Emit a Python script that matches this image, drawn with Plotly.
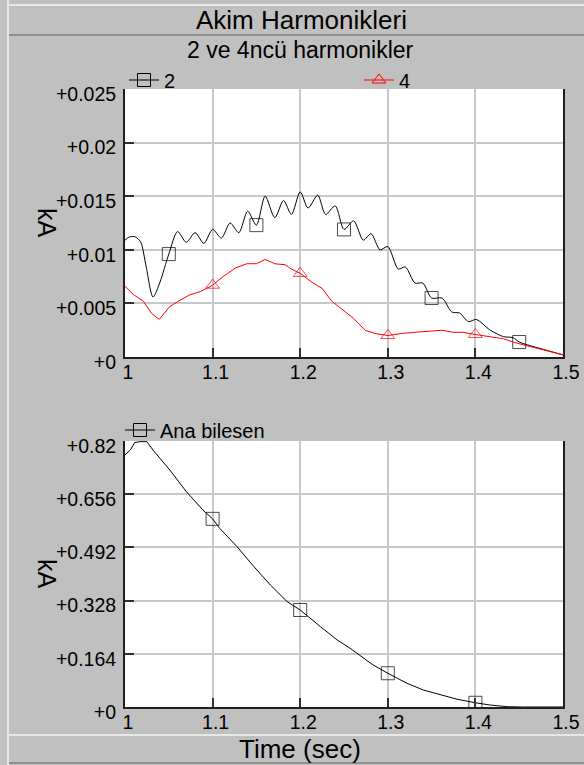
import plotly.graph_objects as go

# ---------------- data ----------------
t_h2 = [1.000, 1.005, 1.012, 1.018, 1.024, 1.032, 1.040, 1.050, 1.060, 1.070,
        1.080, 1.090, 1.100, 1.110, 1.120, 1.130, 1.140, 1.150, 1.160, 1.171,
        1.181, 1.190, 1.200, 1.209, 1.220, 1.229, 1.240, 1.250, 1.261, 1.272,
        1.281, 1.291, 1.300, 1.312, 1.320, 1.331, 1.340, 1.350, 1.362, 1.373,
        1.382, 1.392, 1.401, 1.417, 1.432, 1.443, 1.450, 1.478, 1.500]
h2 = [0.0109, 0.0112, 0.0112, 0.0107, 0.0085, 0.0056, 0.0070, 0.0096, 0.0117, 0.0107,
      0.0116, 0.0106, 0.0119, 0.0111, 0.0125, 0.0116, 0.0136, 0.0123, 0.0150, 0.0130,
      0.0146, 0.0133, 0.0154, 0.0139, 0.0151, 0.0133, 0.0141, 0.0119, 0.0127, 0.0109,
      0.0115, 0.0100, 0.0103, 0.0082, 0.0084, 0.0069, 0.0069, 0.0055, 0.0055, 0.0042,
      0.0041, 0.0033, 0.0035, 0.0025, 0.0019, 0.0018, 0.0014, 0.0007, 0.0002]
h2_marker_t = [1.05, 1.15, 1.25, 1.35, 1.45]

t_h4 = [1.000, 1.010, 1.021, 1.030, 1.039, 1.051, 1.063, 1.074, 1.086, 1.100,
        1.112, 1.126, 1.139, 1.150, 1.160, 1.171, 1.183, 1.190, 1.200, 1.213,
        1.225, 1.236, 1.247, 1.261, 1.274, 1.285, 1.300, 1.316, 1.331, 1.344,
        1.362, 1.375, 1.386, 1.400, 1.417, 1.432, 1.447, 1.470, 1.500]
h4 = [0.0066, 0.0058, 0.0052, 0.0041, 0.0035, 0.0047, 0.0053, 0.0058, 0.0061, 0.0067,
      0.0075, 0.0083, 0.0087, 0.0087, 0.0091, 0.0087, 0.0086, 0.0082, 0.0078, 0.0070,
      0.0064, 0.0052, 0.0045, 0.0036, 0.0025, 0.0022, 0.0020, 0.0022, 0.0023, 0.0024,
      0.0025, 0.0023, 0.0023, 0.0021, 0.0019, 0.0017, 0.0013, 0.0008, 0.0002]
h4_marker_t = [1.1, 1.2, 1.3, 1.4]

t_fund = [1.000, 1.006, 1.011, 1.017, 1.025, 1.032, 1.051, 1.070, 1.089, 1.100,
          1.108, 1.128, 1.147, 1.166, 1.185, 1.200, 1.223, 1.242, 1.257, 1.265,
          1.283, 1.300, 1.322, 1.341, 1.360, 1.379, 1.400, 1.417, 1.436, 1.455, 1.500]
fund = [0.777, 0.792, 0.815, 0.818, 0.818, 0.792, 0.731, 0.664, 0.607, 0.580,
        0.551, 0.494, 0.433, 0.376, 0.325, 0.299, 0.248, 0.207, 0.181, 0.166,
        0.130, 0.104, 0.073, 0.052, 0.037, 0.024, 0.013, 0.006, 0.001, 0.000, 0.000]
fund_marker_t = [1.1, 1.2, 1.3, 1.4]

x_ticks = [1.0, 1.1, 1.2, 1.3, 1.4, 1.5]
x_ticktext = ["1", "1.1", "1.2", "1.3", "1.4", "1.5"]
top_yticks = [0, 0.005, 0.01, 0.015, 0.02, 0.025]
top_yticktext = ["+0", "+0.005", "+0.01", "+0.015", "+0.02", "+0.025"]
bot_yticks = [0, 0.164, 0.328, 0.492, 0.656, 0.82]
bot_yticktext = ["+0", "+0.164", "+0.328", "+0.492", "+0.656", "+0.82"]

title_text = "Akim Harmonikleri"
subtitle_text = "2 ve 4ncü harmonikler"
y_title = "kA"
x_title = "Time (sec)"

# ---------------- layout helpers ----------------
W, H = 584, 765
def px(x):
    return x / W
def py(y):
    return 1 - y / H

def sizes(ts, marks, s):
    return [s if any(abs(t - m) < 1e-9 for m in marks) else 0 for t in ts]

FONT = "Liberation Sans, Arial, sans-serif"

fig = go.Figure()

def add_series(tx, ty, name, color, symbol, msize, marks, xa, ya, leg, spline=False):
    line = dict(color=color, width=1)
    if spline:
        line.update(shape="spline", smoothing=0.8)
    fig.add_trace(go.Scatter(
        x=tx, y=ty, name=name, mode="lines+markers", xaxis=xa, yaxis=ya,
        line=line,
        marker=dict(symbol=symbol, size=sizes(tx, marks, msize), color=color,
                    line=dict(width=1, color=color)),
        showlegend=False, legendgroup=name, hoverinfo="x+y"))
    # legend entry (line + marker glyph)
    fig.add_trace(go.Scatter(
        x=[None], y=[None], name=name, mode="lines+markers", xaxis=xa, yaxis=ya,
        line=dict(color=color, width=1),
        marker=dict(symbol=symbol, size=msize, color=color,
                    line=dict(width=1, color=color)),
        showlegend=True, legendgroup=name, legend=leg))

add_series(t_h2, h2, "2", "#000000", "square-open", 13, h2_marker_t, "x", "y", "legend", spline=True)
add_series(t_h4, h4, "4", "#ff0000", "triangle-up-open", 12, h4_marker_t, "x", "y", "legend")
add_series(t_fund, fund, "Ana bilesen", "#000000", "square-open", 13, fund_marker_t, "x2", "y2", "legend2")

axis_common = dict(
    showgrid=True, gridcolor="#c8c8c8", gridwidth=1.5,
    zeroline=False, showline=True, linecolor="#202020", linewidth=2,
    ticks="inside", ticklen=9, tickwidth=1.5, tickcolor="#303030",
    tickfont=dict(family=FONT, size=19.5, color="#000000"),
    automargin=False,
)

fig.update_layout(
    width=W, height=H, autosize=False,
    margin=dict(l=0, r=0, t=0, b=0, pad=0, autoexpand=False),
    paper_bgcolor="#c0c0c0", plot_bgcolor="#ffffff",
    showlegend=True,
    xaxis=dict(domain=[px(125), px(563)], range=[1, 1.5], anchor="y",
               tickvals=x_ticks, ticktext=x_ticktext, mirror=False,
               ticklabelstandoff=-3, ticklabelshift=3, **axis_common),
    yaxis=dict(domain=[py(357), py(89)], range=[0, 0.025], anchor="x",
               tickvals=top_yticks, ticktext=top_yticktext, mirror=True,
               ticklabelstandoff=3, ticklabelshift=5, **axis_common),
    xaxis2=dict(domain=[px(125), px(563)], range=[1, 1.5], anchor="y2",
                tickvals=x_ticks, ticktext=x_ticktext, mirror=False,
                ticklabelstandoff=-3, ticklabelshift=3, **axis_common),
    yaxis2=dict(domain=[py(707), py(441)], range=[0, 0.82], anchor="x2",
                tickvals=bot_yticks, ticktext=bot_yticktext, mirror=True,
                ticklabelstandoff=3, ticklabelshift=5, **axis_common),
    legend=dict(x=px(124), y=py(80), xanchor="left", yanchor="middle",
                orientation="h", bgcolor="rgba(0,0,0,0)", borderwidth=0,
                entrywidth=190, entrywidthmode="pixels",
                font=dict(family=FONT, size=20, color="#000000")),
    legend2=dict(x=px(120), y=py(430), xanchor="left", yanchor="middle",
                 orientation="h", bgcolor="rgba(0,0,0,0)", borderwidth=0,
                 font=dict(family=FONT, size=20, color="#000000")),
)

# frame lines (title bar and bottom bar)
shapes = [
    dict(type="line", xref="paper", yref="paper", x0=px(8), x1=px(8), y0=0, y1=1,
         line=dict(color="#f4f4f4", width=1.5)),
    dict(type="line", xref="paper", yref="paper", x0=px(9), x1=1, y0=py(5), y1=py(5),
         line=dict(color="#f4f4f4", width=1.5)),
    dict(type="line", xref="paper", yref="paper", x0=px(9), x1=1, y0=py(35), y1=py(35),
         line=dict(color="#808080", width=1.5)),
    dict(type="line", xref="paper", yref="paper", x0=px(9), x1=1, y0=py(735), y1=py(735),
         line=dict(color="#f4f4f4", width=1.5)),
    dict(type="line", xref="paper", yref="paper", x0=px(9), x1=1, y0=py(763), y1=py(763),
         line=dict(color="#808080", width=1.5)),
]
fig.update_layout(shapes=shapes)

annotations = [
    dict(text=title_text, x=px(301), y=py(20), xref="paper", yref="paper",
         showarrow=False, xanchor="center", yanchor="middle",
         font=dict(family=FONT, size=26, color="#000000")),
    dict(text=subtitle_text, x=px(300), y=py(50), xref="paper", yref="paper",
         showarrow=False, xanchor="center", yanchor="middle",
         font=dict(family=FONT, size=23, color="#000000")),
    dict(text=y_title, x=px(47), y=py(223), xref="paper", yref="paper",
         showarrow=False, xanchor="center", yanchor="middle", textangle=90,
         font=dict(family=FONT, size=25, color="#000000")),
    dict(text=y_title, x=px(47), y=py(574), xref="paper", yref="paper",
         showarrow=False, xanchor="center", yanchor="middle", textangle=90,
         font=dict(family=FONT, size=25, color="#000000")),
    dict(text=x_title, x=px(300), y=py(749), xref="paper", yref="paper",
         showarrow=False, xanchor="center", yanchor="middle",
         font=dict(family=FONT, size=26, color="#000000")),
]
fig.update_layout(annotations=annotations)

fig.write_html(
    "out.html",
    config={"displayModeBar": False},
    post_script="document.body.style.margin='0';document.body.style.overflow='hidden';",
)
